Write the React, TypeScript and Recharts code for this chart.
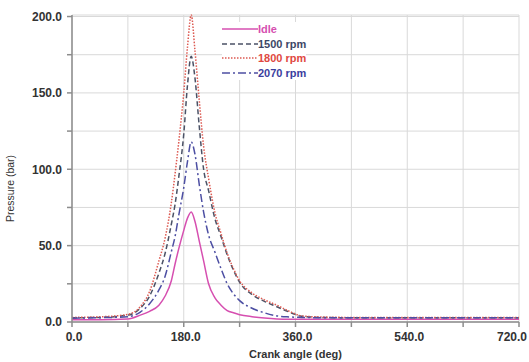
import { CartesianGrid, Line, LineChart, XAxis, YAxis } from "recharts";

if (typeof document !== "undefined") document.body.style.margin = "0";

const angles = [0, 45, 90, 110, 125, 140, 150, 160, 166, 172, 180, 186, 192, 198, 205, 212, 220, 230, 240, 250, 260, 270, 290, 310, 330, 350, 370, 400, 450, 540, 630, 720];

const idle = [1.5, 1.5, 2, 4.5, 7, 11, 17, 27, 38, 48, 60, 68, 72, 66, 53, 40, 25, 16, 11, 7.5, 6, 4.8, 3.5, 2.6, 2, 1.8, 1.8, 1.8, 1.8, 1.8, 1.8, 1.8];
const rpm1500 = [2.8, 3, 4.5, 9, 17, 32, 45, 64, 77, 95, 123, 155, 174, 160, 128, 100, 86, 68, 56, 44, 34, 26, 18, 13.5, 10, 6.5, 3.8, 3, 2.8, 2.8, 2.8, 2.8];
const rpm1800 = [3, 3.4, 5, 10, 20, 40, 55, 78, 97, 118, 150, 180, 201, 178, 145, 115, 94, 72, 58, 45, 35, 27, 19, 14.5, 11, 7, 4, 3.3, 3, 3, 3, 3];
const rpm2070 = [2.5, 2.8, 3.5, 6.5, 12, 21, 30, 46, 56, 70, 88, 105, 118, 110, 90, 72, 57, 46, 35, 25, 18.5, 14, 9, 6, 4, 3.3, 3, 2.8, 2.8, 2.8, 2.8, 2.8];

const xTicks = [0, 90, 180, 270, 360, 450, 540, 630, 720];
const yTicks = [0, 25, 50, 75, 100, 125, 150, 175, 200];

const data = angles.map((a, i) => ({
  angle: a,
  idle: idle[i],
  rpm1500: rpm1500[i],
  rpm1800: rpm1800[i],
  rpm2070: rpm2070[i],
}));

const series = [
  { key: "idle", name: "Idle", color: "#d64fb0", text: "#d64fb0", dash: undefined },
  { key: "rpm1500", name: "1500 rpm", color: "#4b5266", text: "#3d4766", dash: "5 3" },
  { key: "rpm1800", name: "1800 rpm", color: "#dd5a52", text: "#e0483f", dash: "1.5 1.5" },
  { key: "rpm2070", name: "2070 rpm", color: "#4d4fa3", text: "#3b3e9e", dash: "8 3 2 3" },
];

const FONT = "'Liberation Sans', Arial, sans-serif";

function XTick(props: any) {
  const { x, y, payload } = props;
  const v = payload.value as number;
  if (v % 180 !== 0) return null;
  const last = v === 720;
  return (
    <text
      x={last ? x + 10 : x + 2}
      y={y}
      dy="0.71em"
      textAnchor={last ? "end" : "middle"}
      fill="#333"
      fontSize={12}
      fontWeight="bold"
      fontFamily={FONT}
    >
      {v.toFixed(1)}
    </text>
  );
}

export default function App() {
  return (
    <div style={{ position: "relative", width: 529, height: 362, background: "#fff" }}>
      <LineChart width={529} height={362} data={data} margin={{ top: 15, right: 10, bottom: 0, left: 0 }}>
        <CartesianGrid stroke="#d9d9d9" strokeWidth={1} />
        <XAxis
          dataKey="angle"
          type="number"
          domain={[0, 720]}
          ticks={xTicks}
          height={40}
          stroke="#8c8c8c"
          strokeWidth={1.5}
          tickSize={5}
          tickMargin={5}
          tick={<XTick />}
          label={{
            value: "Crank angle (deg)",
            position: "insideBottom",
            offset: 4,
            fill: "#333",
            style: { fill: "#333", fontSize: 11, fontWeight: "bold", fontFamily: FONT },
          }}
        />
        <YAxis
          type="number"
          domain={[0, 200]}
          ticks={yTicks}
          width={72}
          stroke="#8c8c8c"
          strokeWidth={1.5}
          tickSize={5}
          tickMargin={5}
          tick={{ fill: "#333", fontSize: 12, fontWeight: "bold", fontFamily: FONT }}
          tickFormatter={(v: number) => (v % 50 === 0 ? v.toFixed(1) : "")}
          label={{
            value: "Pressure (bar)",
            angle: -90,
            position: "insideLeft",
            offset: 10,
            dy: 20,
            fill: "#333",
            style: { fill: "#333", fontSize: 10.5, fontFamily: FONT, textAnchor: "middle" },
          }}
        />
        {series.map((s) => (
          <Line
            key={s.key}
            dataKey={s.key}
            name={s.name}
            type="monotone"
            stroke={s.color}
            strokeWidth={1.5}
            strokeDasharray={s.dash}
            dot={false}
            isAnimationActive={false}
          />
        ))}
      </LineChart>
      <div
        style={{
          position: "absolute",
          top: 22,
          left: 222,
          fontFamily: FONT,
          fontSize: 11,
          fontWeight: "bold",
          lineHeight: "14.5px",
          background: "#fff",
        }}
      >
        {series.map((s) => (
          <div key={s.key} style={{ display: "flex", alignItems: "center" }}>
            <svg width={36} height={10}>
              <line x1={0} y1={5} x2={36} y2={5} stroke={s.color} strokeWidth={1.6} strokeDasharray={s.dash} />
            </svg>
            <span style={{ color: s.text }}>{s.name}</span>
          </div>
        ))}
      </div>
    </div>
  );
}
